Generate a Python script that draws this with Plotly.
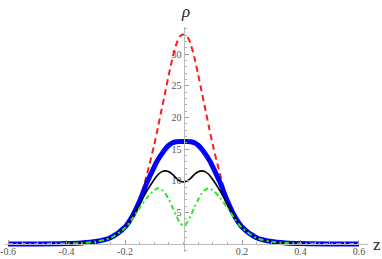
import plotly.graph_objects as go

# z positions
z = [-0.6, -0.5, -0.4, -0.35, -0.3, -0.25, -0.2, -0.175, -0.15, -0.125, -0.1, -0.0875, -0.075,
     -0.0625, -0.05, -0.0375, -0.025, -0.0125, 0.0, 0.0125, 0.025, 0.0375, 0.05, 0.0625, 0.075,
     0.0875, 0.1, 0.125, 0.15, 0.175, 0.2, 0.25, 0.3, 0.35, 0.4, 0.5, 0.6]

rho_red = [0.004, 0.015, 0.07, 0.17, 0.4, 1.0, 2.7, 4.3, 7.0, 11.0, 15.7, 18.4, 21.2,
           24.0, 26.8, 29.4, 31.5, 32.8, 33.1, 32.8, 31.5, 29.4, 26.8, 24.0, 21.2,
           18.4, 15.7, 11.0, 7.0, 4.3, 2.7, 1.0, 0.4, 0.17, 0.07, 0.015, 0.004]

rho_blue = [0.004, 0.015, 0.07, 0.17, 0.4, 1.0, 2.7, 4.4, 6.8, 9.7, 12.2, 13.3, 14.2,
            15.0, 15.6, 16.0, 16.15, 16.2, 16.2, 16.2, 16.15, 16.0, 15.6, 15.0, 14.2,
            13.3, 12.2, 9.7, 6.8, 4.4, 2.7, 1.0, 0.4, 0.17, 0.07, 0.015, 0.004]

rho_black = [0.004, 0.015, 0.07, 0.17, 0.4, 1.0, 2.65, 4.3, 6.3, 8.4, 10.2, 10.95, 11.4,
             11.55, 11.4, 11.0, 10.4, 9.95, 9.8, 9.95, 10.4, 11.0, 11.4, 11.55, 11.4,
             10.95, 10.2, 8.4, 6.3, 4.3, 2.65, 1.0, 0.4, 0.17, 0.07, 0.015, 0.004]

rho_green = [0.004, 0.014, 0.065, 0.16, 0.38, 0.95, 2.55, 4.0, 5.7, 7.3, 8.5, 8.8, 8.6,
             8.0, 7.0, 5.8, 4.5, 3.4, 2.9, 3.4, 4.5, 5.8, 7.0, 8.0, 8.6,
             8.8, 8.5, 7.3, 5.7, 4.0, 2.55, 0.95, 0.38, 0.16, 0.065, 0.014, 0.004]

x_ticks = [-0.6, -0.4, -0.2, 0.2, 0.4, 0.6]
x_tick_text = ["-0.6", "-0.4", "-0.2", "0.2", "0.4", "0.6"]
y_ticks = [5, 10, 15, 20, 25, 30]

x_range = [-0.6103, 0.6308]
y_range = [-1.26, 34.28]

fig = go.Figure()
fig.add_trace(go.Scatter(x=z, y=rho_red, mode="lines",
                         line=dict(color="#ff1a1a", width=2, dash="6px,4px", shape="spline", smoothing=0.8)))
fig.add_trace(go.Scatter(x=z, y=rho_blue, mode="lines",
                         line=dict(color="#0000ff", width=5, shape="spline", smoothing=0.8)))
fig.add_trace(go.Scatter(x=z, y=rho_black, mode="lines",
                         line=dict(color="#000000", width=1.6, shape="spline", smoothing=0.8)))
fig.add_trace(go.Scatter(x=z, y=rho_green, mode="lines",
                         line=dict(color="#22ee22", width=2, dash="5px,3px,2px,3px", shape="spline", smoothing=0.8)))

tickfont = dict(family="Liberation Serif", size=10, color="#555555")
xpos = (0 - y_range[0]) / (y_range[1] - y_range[0])
ypos = (0 - x_range[0]) / (x_range[1] - x_range[0])

fig.update_layout(
    width=382, height=259,
    margin=dict(l=5, r=14, t=27, b=7, autoexpand=False),
    paper_bgcolor="white", plot_bgcolor="white",
    showlegend=False, hovermode=False,
    xaxis=dict(range=x_range, anchor="free", position=xpos, showgrid=False, zeroline=False,
               automargin=False,
               showline=True, linecolor="#bbbbbb", linewidth=1,
               tickvals=x_ticks, ticktext=x_tick_text, ticks="inside", ticklen=4,
               tickcolor="#999999", tickfont=tickfont, ticklabelstandoff=-2,
               minor=dict(dtick=0.05, tick0=0, ticks="inside", ticklen=2, tickcolor="#aaaaaa")),
    yaxis=dict(range=y_range, anchor="free", position=ypos, showgrid=False, zeroline=False,
               automargin=False,
               showline=True, linecolor="#bbbbbb", linewidth=1,
               tickvals=y_ticks, ticks="inside", ticklen=4, tickcolor="#999999",
               tickfont=tickfont,
               minor=dict(dtick=1, tick0=0, ticks="inside", ticklen=2, tickcolor="#aaaaaa")),
    annotations=[
        dict(x=0, xref="x", y=1, yref="paper", yanchor="bottom", xanchor="center", xshift=2, yshift=4,
             text="<i>ρ</i>", showarrow=False,
             font=dict(family="Liberation Serif", size=17, color="#222222")),
        dict(x=1, xref="paper", y=0, yref="y", xanchor="left", yanchor="middle", xshift=3,
             text="z", showarrow=False,
             font=dict(family="Liberation Serif", size=17, color="#222222")),
    ],
)

fig.write_html("out.html", config={"displayModeBar": False, "staticPlot": True},
               post_script="document.body.style.margin='0';document.body.style.overflow='hidden';")
